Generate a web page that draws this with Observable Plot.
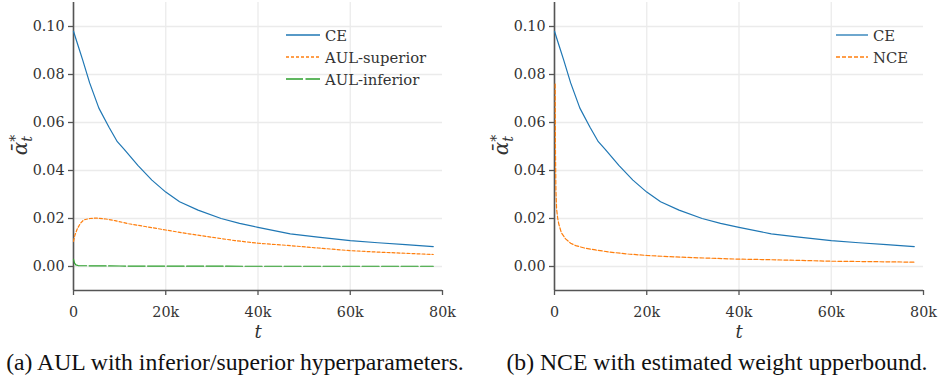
<!DOCTYPE html>
<html><head><meta charset="utf-8">
<script src="https://cdn.jsdelivr.net/npm/d3@7"></script>
<script src="https://cdn.jsdelivr.net/npm/@observablehq/plot@0.6"></script>
<style>
body{margin:0;background:#fff;}
#wrap{display:flex;width:940px;}
.panel{position:relative;width:470px;}
.cap{font-family:"Liberation Serif","Times New Roman",serif;font-size:23.7px;color:#111;text-align:center;margin-top:9px;white-space:nowrap;}
.legend{position:absolute;font-family:"DejaVu Serif","Liberation Serif",serif;font-size:14.8px;color:#333;}
.legend .row{display:flex;align-items:center;height:22px;}
.legend svg{margin-right:5px;}
</style></head><body>
<div id="wrap">
  <div class="panel" id="pa"><div class="cap" id="capa"></div></div>
  <div class="panel" id="pb"><div class="cap" id="capb" style="padding-left:24px"></div></div>
</div>
<script>
// ---- data (t in thousands of steps) ----
const ceT  = [0, 1, 2, 3.5, 5.5, 7.7, 9.5, 11, 14, 17, 20, 23, 27, 32, 36, 40, 47, 53, 60, 66, 72, 78];
const ceV  = [0.098, 0.092, 0.086, 0.0765, 0.066, 0.058, 0.052, 0.0488, 0.042, 0.036, 0.031, 0.027, 0.0235, 0.020, 0.018, 0.0163, 0.0136, 0.0122, 0.0108, 0.0099, 0.0091, 0.0083];

const supT = [0, 0.3, 0.8, 1.5, 2.2, 3.5, 4.8, 7, 9, 12, 16, 20, 25, 30, 35, 40, 47, 53, 60, 66, 72, 78];
const supV = [0.0105, 0.013, 0.0156, 0.018, 0.0194, 0.0200, 0.0202, 0.0198, 0.0191, 0.0178, 0.0165, 0.0152, 0.0136, 0.0122, 0.0108, 0.0097, 0.0087, 0.0077, 0.0066, 0.0060, 0.0055, 0.0050];

const infT = [0, 0.2, 0.5, 1, 3, 10, 20, 40, 60, 78];
const infV = [0.003, 0.0015, 0.0007, 0.0004, 0.0003, 0.0002, 0.00015, 0.0001, 0.0001, 0.0001];

const nceT = [0.15, 0.2, 0.3, 0.45, 0.7, 0.93, 1.5, 2.4, 3.5, 4.6, 6.5, 8.9, 12, 16, 20, 25, 30, 39.4, 45, 52, 60, 70, 78];
const nceV = [0.076, 0.05, 0.032, 0.024, 0.020, 0.0177, 0.014, 0.0115, 0.0097, 0.0087, 0.0077, 0.0069, 0.0060, 0.0052, 0.0046, 0.0041, 0.0037, 0.0031, 0.0029, 0.0026, 0.0022, 0.0020, 0.0018];

const xTicks = [0, 20000, 40000, 60000, 80000];
const xGrid  = [0, 20000, 40000, 60000];
const yTicks = [0, 0.02, 0.04, 0.06, 0.08, 0.10];
const xDomain = [0, 80000];
const yDomain = [-0.01, 0.11];

const labelsA = ["CE", "AUL-superior", "AUL-inferior"];
const labelsB = ["CE", "NCE"];
const captionA = "(a) AUL with inferior/superior hyperparameters.";
const captionB = "(b) NCE with estimated weight upperbound.";

const rows = (T, V) => T.map((t, i) => ({t: t * 1000, v: V[i]}));

const styles = {
  "CE": {stroke: "#1f77b4", strokeWidth: 1.2},
  "AUL-superior": {stroke: "#ff7f0e", strokeWidth: 1.2, strokeDasharray: "3,2"},
  "AUL-inferior": {stroke: "#2ca02c", strokeWidth: 1.2, strokeDasharray: "17,2.5"},
  "NCE": {stroke: "#ff7f0e", strokeWidth: 1.2, strokeDasharray: "4,2"}
};

const fmtX = d => d === 0 ? "0" : (d / 1000) + "k";
const FONT = '"DejaVu Serif", "Liberation Serif", serif';

function makePlot(series, marginLeft, marginRight) {
  const svg = Plot.plot({
    width: 470, height: 340,
    marginLeft, marginRight, marginTop: 2, marginBottom: 50,
    style: {fontFamily: FONT, fontSize: "14.3px", color: "#333", background: "white"},
    x: {domain: xDomain},
    y: {domain: yDomain},
    marks: [
      Plot.gridX(xGrid, {stroke: "#ebebeb", strokeOpacity: 1, strokeWidth: 1.3}),
      Plot.gridY(yTicks, {stroke: "#ebebeb", strokeOpacity: 1, strokeWidth: 1.3}),
      Plot.ruleX([xDomain[0]], {stroke: "#555", strokeWidth: 1.6}),
      Plot.ruleY([yDomain[0]], {stroke: "#555", strokeWidth: 1.6}),
      ...series.map(s => Plot.line(s.data, {x: "t", y: "v", ...styles[s.name]})),
      Plot.axisX(xTicks, {tickFormat: fmtX, tickSize: 5, tickPadding: 11, stroke: "#555", strokeWidth: 1.3, fill: "#333",
        label: "t", labelAnchor: "center", labelArrow: "none", labelOffset: 47}),
      Plot.axisY(yTicks, {tickFormat: d3.format(".2f"), tickSize: 5, tickPadding: 4, stroke: "#555", strokeWidth: 1.3, fill: "#333", label: null})
    ]
  });
  const lab = svg.querySelector('[aria-label="x-axis label"]');
  if (lab) { lab.style.fontStyle = "italic"; lab.style.fontSize = "18px"; }
  // y-axis label: alpha-bar with superscript star and subscript t
  const yl = d3.select(svg).append("text")
    .attr("transform", `translate(${marginLeft - 46},145) rotate(-90)`)
    .attr("text-anchor", "middle")
    .attr("font-family", FONT)
    .attr("font-size", 20)
    .attr("fill", "#333");
  yl.append("tspan").attr("font-style", "italic").text("\u03B1\u0304");
  yl.append("tspan").attr("dy", -7).attr("font-size", 14).text("*");
  yl.append("tspan").attr("dx", -7).attr("dy", 12).attr("font-size", 14).attr("font-style", "italic").text("t");
  return svg;
}

function makeLegend(names, left, top, swLen) {
  const div = document.createElement("div");
  div.className = "legend";
  div.style.left = left + "px";
  div.style.top = top + "px";
  names.forEach(n => {
    const row = document.createElement("div");
    row.className = "row";
    const s = styles[n];
    const sw = d3.create("svg").attr("width", swLen).attr("height", 6);
    sw.append("line").attr("x1", 0).attr("x2", swLen).attr("y1", 3).attr("y2", 3)
      .attr("stroke", s.stroke).attr("stroke-width", 1.3)
      .attr("stroke-dasharray", s.strokeDasharray || null);
    row.appendChild(sw.node());
    const t = document.createElement("span");
    t.textContent = n;
    row.appendChild(t);
    div.appendChild(row);
  });
  return div;
}

const pa = document.getElementById("pa");
const pb = document.getElementById("pb");

pa.insertBefore(makePlot([
  {name: "CE", data: rows(ceT, ceV)},
  {name: "AUL-superior", data: rows(supT, supV)},
  {name: "AUL-inferior", data: rows(infT, infV)}
], 73, 28), pa.firstChild);
pa.appendChild(makeLegend(labelsA, 286, 24, 34));
document.getElementById("capa").textContent = captionA;

pb.insertBefore(makePlot([
  {name: "CE", data: rows(ceT, ceV)},
  {name: "NCE", data: rows(nceT, nceV)}
], 84, 17), pb.firstChild);
pb.appendChild(makeLegend(labelsB, 366, 24, 32));
document.getElementById("capb").textContent = captionB;
</script>
</body></html>
